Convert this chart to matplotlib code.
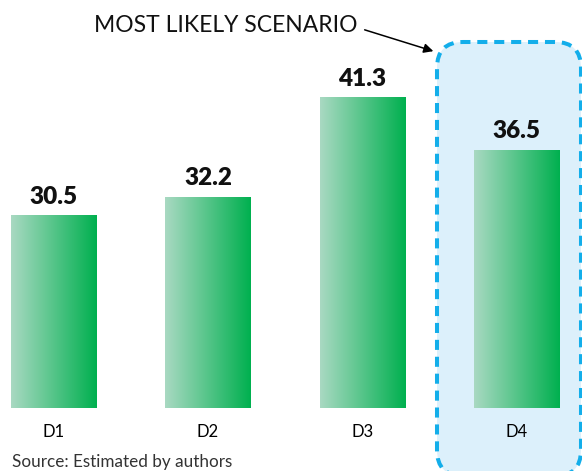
import numpy as np
import matplotlib
matplotlib.use("Agg")
import matplotlib.pyplot as plt
from matplotlib.colors import LinearSegmentedColormap
from matplotlib.patches import FancyBboxPatch
from matplotlib.transforms import IdentityTransform

# Scenario values
categories = ["D1", "D2", "D3", "D4"]
values = [30.5, 32.2, 41.3, 36.5]

plt.rcParams["font.family"] = ["Lato", "DejaVu Sans"]

W, H, DPI = 582, 471, 100
fig = plt.figure(figsize=(W / DPI, H / DPI), dpi=DPI)
ax = fig.add_axes([0, (H - 408) / H, 1, 408 / H])
ax.patch.set_alpha(0)

x = np.arange(len(categories))
bars = ax.bar(x, values, width=0.551, color="none", edgecolor="none", zorder=3)

# horizontal gradient fill for every bar
grad = LinearSegmentedColormap.from_list("grn", ["#a9d9c2", "#00b04f"])
g = np.linspace(0, 1, 256).reshape(1, -1)
for b in bars:
    x0, w, h = b.get_x(), b.get_width(), b.get_height()
    im = ax.imshow(g, cmap=grad, aspect="auto", extent=[x0, x0 + w, 0, h],
                   zorder=3, interpolation="bicubic")
    im.set_clip_path(b)
    im.set_clip_box(ax.bbox)
    ax.text(x0 + w / 2, h + 0.75, f"{h:.1f}", ha="center", va="bottom",
            fontsize=17.5, fontweight="heavy", color="#111111", zorder=4)

ax.set_xlim(-0.347, 3.424)
ax.set_ylim(12.93, 50.26)
ax.axis("off")

# highlighted scenario box (pixel coordinates, origin bottom-left)
box = FancyBboxPatch((437, H - 476), 144, 476 - 42,
                     boxstyle="round,pad=0,rounding_size=26",
                     transform=IdentityTransform(), facecolor="#dcf0fb",
                     edgecolor="#13aeea", linewidth=2.9,
                     linestyle=(0, (2.5, 1.7)), zorder=-5)
fig.patches.append(box)

# category labels
for xi, c in zip(x, categories):
    fig.text(ax.transData.transform((xi, 0))[0] / W, (H - 432) / H, c,
             ha="center", va="center", fontsize=12, color="#000000")

fig.text(94 / W, (H - 26) / H, "MOST LIKELY SCENARIO", ha="left", va="center",
         fontsize=16.5, color="#111111")
ax.annotate("", xy=(436 / W, (H - 52) / H), xycoords="figure fraction",
            xytext=(362 / W, (H - 29) / H), textcoords="figure fraction",
            arrowprops=dict(arrowstyle="-|>", color="black", lw=1.1,
                            mutation_scale=14))

fig.text(12 / W, 1 / H, "Source: Estimated by authors", ha="left",
         va="bottom", fontsize=12.3, color="#333333")

fig.savefig("out.png", dpi=DPI)
